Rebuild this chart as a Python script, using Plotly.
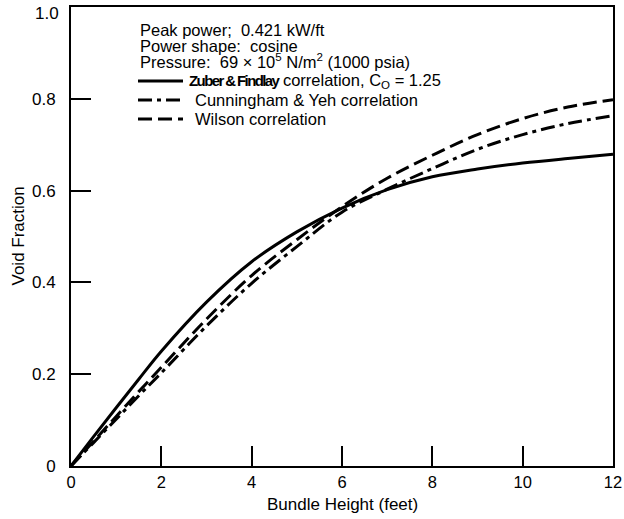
import plotly.graph_objects as go

# Data
height_ft = [0, 0.5, 1, 1.5, 2, 3, 4, 5, 6, 7, 8, 9, 10, 11, 12]
zuber_findlay = [0, 0.064, 0.127, 0.189, 0.25, 0.357, 0.445, 0.510, 0.562, 0.602, 0.630, 0.647, 0.660, 0.670, 0.679]
cunningham_yeh = [0, 0.051, 0.102, 0.153, 0.203, 0.305, 0.398, 0.478, 0.553, 0.603, 0.648, 0.690, 0.722, 0.746, 0.763]
wilson = [0, 0.054, 0.108, 0.162, 0.215, 0.32, 0.415, 0.493, 0.565, 0.627, 0.677, 0.722, 0.757, 0.782, 0.798]

x_ticks = [0, 2, 4, 6, 8, 10, 12]
y_ticks = [0, 0.2, 0.4, 0.6, 0.8, 1.0]
y_tick_text = ["0", "0.2", "0.4", "0.6", "0.8", "1.0"]

header_lines = [
    "Peak power;  0.421 kW/ft",
    "Power shape:  cosine",
    "Pressure:  69 \u00d7 10<sup>5</sup> N/m<sup>2</sup> (1000 psia)",
]
series_labels = [
    "<span style='font-family:Liberation Sans, Arial, sans-serif;font-weight:bold;letter-spacing:-1.6px;font-size:15px'>Zuber & Findlay</span> correlation, C<sub>O</sub> = 1.25",
    "Cunningham & Yeh correlation",
    "Wilson correlation",
]

W, H = 624, 519
L, R, T, B = 71, 11, 7, 53
PW, PH = W - L - R, H - T - B

def px(xp):
    return (xp - L) / PW

def py(yp):
    return (H - B - yp) / PH

FONT = "Liberation Sans, Arial, sans-serif"
DASH_DOT = "14px,5px,4px,5px"
DASH = "14px,6px"

fig = go.Figure()
styles = [("solid", zuber_findlay), (DASH_DOT, cunningham_yeh), (DASH, wilson)]
for dash, ys in styles:
    fig.add_trace(go.Scatter(
        x=height_ft, y=ys, mode="lines",
        line=dict(color="black", width=3, dash=dash, shape="spline", smoothing=1.0),
        showlegend=False, hoverinfo="skip",
    ))

annotations = []
header_y = [30.5, 46, 61.5]
for txt, yy in zip(header_lines, header_y):
    annotations.append(dict(text=txt, xref="paper", yref="paper", x=px(138), y=py(yy),
                            xanchor="left", yanchor="middle", showarrow=False,
                            font=dict(size=16.5, color="black", family=FONT)))

shapes = []
entry_y = [81, 100, 119]
text_x = [187, 193, 193]
for (dash, _), lab, yy, tx in zip(styles, series_labels, entry_y, text_x):
    shapes.append(dict(type="line", xref="paper", yref="paper",
                       x0=px(138), x1=px(183), y0=py(yy), y1=py(yy),
                       line=dict(color="black", width=3, dash=dash)))
    annotations.append(dict(text=lab, xref="paper", yref="paper", x=px(tx), y=py(yy),
                            xanchor="left", yanchor="middle", showarrow=False,
                            font=dict(size=16.5, color="black", family=FONT)))

# the top y tick label (drawn as annotation so it is not clipped at the top edge)
annotations.append(dict(text=y_tick_text[-1], xref="paper", yref="y", x=0, y=y_ticks[-1],
                        xanchor="right", yanchor="middle", xshift=-10, yshift=-6,
                        showarrow=False, font=dict(size=17, color="black", family=FONT)))

# axis titles
annotations.append(dict(text="Bundle Height (feet)", xref="paper", yref="paper",
                        x=0.5, y=0, yanchor="middle", yshift=-38, showarrow=False,
                        font=dict(size=17, color="black", family=FONT)))
annotations.append(dict(text="Void Fraction", xref="paper", yref="paper",
                        x=0, y=0.5, xanchor="center", xshift=-53, textangle=-90,
                        showarrow=False, font=dict(size=17, color="black", family=FONT)))

fig.update_layout(
    width=W, height=H,
    margin=dict(l=L, r=R, t=T, b=B, pad=0, autoexpand=False),
    paper_bgcolor="white", plot_bgcolor="white",
    font=dict(family=FONT, color="black", size=16),
    annotations=annotations, shapes=shapes,
    xaxis=dict(range=[0, 12], tickvals=x_ticks, ticks="inside", ticklen=20, tickwidth=1.5,
               tickcolor="black", showline=True, linecolor="black", linewidth=2, mirror=True,
               showgrid=False, zeroline=False, ticklabelstandoff=0, automargin=False,
               tickfont=dict(size=16.5, color="black", family=FONT)),
    yaxis=dict(range=[0, 1.0], tickvals=y_ticks[:-1], ticktext=y_tick_text[:-1], ticks="inside",
               ticklen=20, tickwidth=1.5, tickcolor="black", showline=True, linecolor="black",
               linewidth=2, mirror=True, showgrid=False, zeroline=False, ticklabelstandoff=10,
               automargin=False, tickfont=dict(size=17, color="black", family=FONT)),
)

fig.write_html("out.html", config={"displayModeBar": False},
               post_script="document.body.style.margin='0';document.body.style.padding='0';document.body.style.overflow='hidden';")
